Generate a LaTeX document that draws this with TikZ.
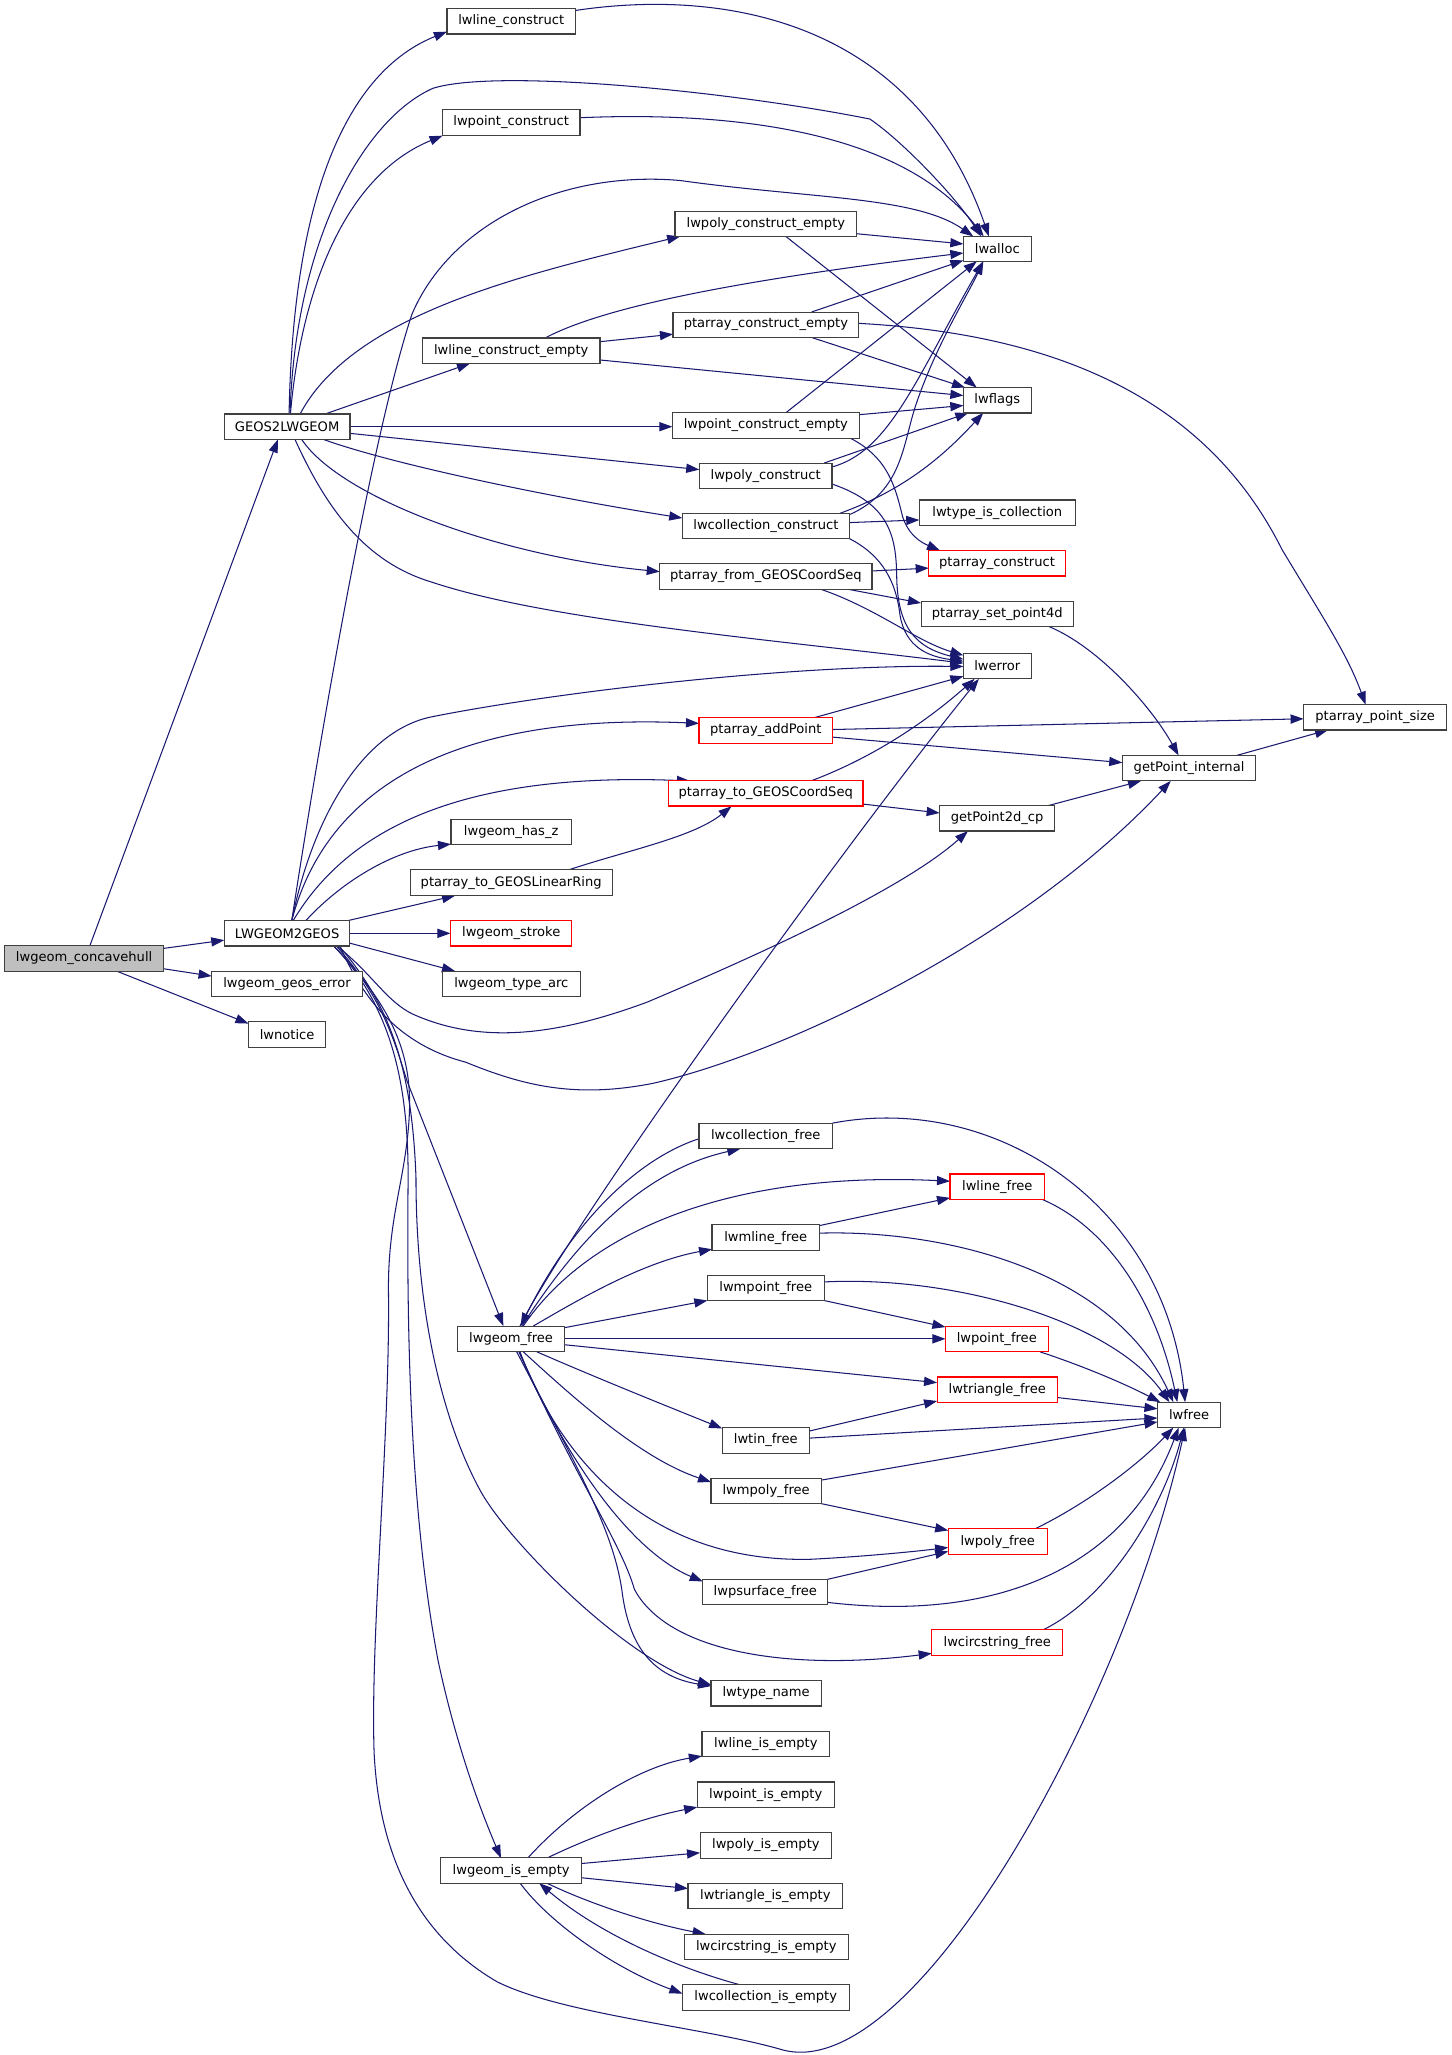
\documentclass[tikz,border=0pt]{standalone}
\usepackage{fontspec}
\newfontfamily\dvs{DejaVu Sans}
\usetikzlibrary{arrows.meta}
\definecolor{edgecol}{HTML}{191970}
\definecolor{nodeb}{HTML}{404040}
\definecolor{hullfill}{HTML}{BFBFBF}
\pgfdeclarelayer{edgelayer}
\pgfsetlayers{edgelayer,main}
\tikzset{
 fn/.style={draw=nodeb, line width=0.9pt, fill=white, minimum height=19.4pt, inner xsep=3pt, inner ysep=0pt, font=\dvs\fontsize{10}{12}\selectfont, text=black},
 trunc/.style={fn, draw=red},
 cur/.style={fn, fill=hullfill},
 cl/.style={draw=edgecol, line width=0.8pt, -{Triangle[length=10pt,width=7pt]}},
}
\begin{document}
\begin{tikzpicture}[x=1pt,y=-1pt]
\path[use as bounding box] (0,0) rectangle (1110,1571);
% nodes
\node[fn, minimum width=98.2pt] (lc) at (390.8,16.3) {lwline\_construct};
\node[fn, minimum width=105.2pt] (pc) at (390.8,93.7) {lwpoint\_construct};
\node[fn, minimum width=51.7pt] (alloc) at (762.4,190.3) {lwalloc};
\node[fn, minimum width=139pt] (pce) at (585.5,171.1) {lwpoly\_construct\_empty};
\node[fn, minimum width=142pt] (ace) at (585.5,248.3) {ptarray\_construct\_empty};
\node[fn, minimum width=135.8pt] (lce) at (390.8,268.1) {lwline\_construct\_empty};
\node[fn, minimum width=51.7pt] (flags) at (762.4,306) {lwflags};
\node[fn, minimum width=96.1pt] (geos) at (219.5,326.2) {GEOS2LWGEOM};
\node[fn, minimum width=143pt] (ptce) at (585.5,325.3) {lwpoint\_construct\_empty};
\node[fn, minimum width=101.4pt] (polyc) at (585.3,363.8) {lwpoly\_construct};
\node[fn, minimum width=119.2pt] (tic) at (762.4,392) {lwtype\_is\_collection};
\node[fn, minimum width=127.7pt] (collc) at (585.5,402) {lwcollection\_construct};
\node[trunc, minimum width=104.4pt] (ac) at (762.2,430.6) {ptarray\_construct};
\node[fn, minimum width=162.3pt] (afg) at (585.5,440.7) {ptarray\_from\_GEOSCoordSeq};
\node[fn, minimum width=116.5pt] (asp) at (762.4,469.4) {ptarray\_set\_point4d};
\node[fn, minimum width=51.8pt] (err) at (762.4,509) {lwerror};
\node[fn, minimum width=109.4pt] (aps) at (1051.3,548.3) {ptarray\_point\_size};
\node[trunc, minimum width=102pt] (aap) at (585.4,558.5) {ptarray\_addPoint};
\node[fn, minimum width=102pt] (gpi) at (909,587.2) {getPoint\_internal};
\node[trunc, minimum width=148.8pt] (atg) at (585.4,606.5) {ptarray\_to\_GEOSCoordSeq};
\node[fn, minimum width=87.8pt] (gp2) at (762.3,625.6) {getPoint2d\_cp};
\node[fn, minimum width=92pt] (hz) at (390.8,636) {lwgeom\_has\_z};
\node[fn, minimum width=154.4pt] (atlr) at (390.8,674.7) {ptarray\_to\_GEOSLinearRing};
\node[fn, minimum width=95.9pt] (l2g) at (219.5,713.5) {LWGEOM2GEOS};
\node[trunc, minimum width=92.8pt] (stroke) at (390.8,713.5) {lwgeom\_stroke};
\node[cur, minimum width=121.7pt] (hull) at (64.3,732.7) {lwgeom\_concavehull};
\node[fn, minimum width=115.2pt] (gerr) at (219.4,752.2) {lwgeom\_geos\_error};
\node[fn, minimum width=105.4pt] (tarc) at (390.9,752.2) {lwgeom\_type\_arc};
\node[fn, minimum width=59pt] (notice) at (219.5,790.8) {lwnotice};
\node[fn, minimum width=102pt] (collf) at (585.4,868.3) {lwcollection\_free};
\node[trunc, minimum width=72.2pt] (linef) at (762.4,907.2) {lwline\_free};
\node[fn, minimum width=82.1pt] (mlinef) at (585.4,946.1) {lwmline\_free};
\node[fn, minimum width=89.2pt] (mptf) at (585.4,984.5) {lwmpoint\_free};
\node[fn, minimum width=81.4pt] (gfree) at (390.7,1023.5) {lwgeom\_free};
\node[trunc, minimum width=78.5pt] (ptf) at (762,1023.5) {lwpoint\_free};
\node[trunc, minimum width=92pt] (trif) at (762.4,1062.4) {lwtriangle\_free};
\node[fn, minimum width=48.1pt] (free) at (909,1081.6) {lwfree};
\node[fn, minimum width=66.6pt] (tinf) at (585.4,1101.2) {lwtin\_free};
\node[fn, minimum width=84.3pt] (mpolyf) at (585.7,1139.8) {lwmpoly\_free};
\node[trunc, minimum width=75.7pt] (polyf) at (762.7,1178.5) {lwpoly\_free};
\node[fn, minimum width=95.6pt] (psf) at (585.1,1217.1) {lwpsurface\_free};
\node[trunc, minimum width=100.2pt] (csf) at (762.4,1255.7) {lwcircstring\_free};
\node[fn, minimum width=84.3pt] (tname) at (585.7,1294.5) {lwtype\_name};
\node[fn, minimum width=97.7pt] (lie) at (585.5,1333.1) {lwline\_is\_empty};
\node[fn, minimum width=104.8pt] (pie) at (585.4,1372) {lwpoint\_is\_empty};
\node[fn, minimum width=100.5pt] (polyie) at (585.5,1410.8) {lwpoly\_is\_empty};
\node[fn, minimum width=107.6pt] (gie) at (390.8,1430) {lwgeom\_is\_empty};
\node[fn, minimum width=118.2pt] (trie) at (585.1,1449.4) {lwtriangle\_is\_empty};
\node[fn, minimum width=125.2pt] (csie) at (585.8,1488.4) {lwcircstring\_is\_empty};
\node[fn, minimum width=127.4pt] (collie) at (585.4,1527) {lwcollection\_is\_empty};
\begin{pgfonlayer}{edgelayer}
% concavehull
\draw[cl] ([shift={(4.4,-9.7)}]hull.center) -- ([shift={(-7.1,9.8)}]geos.center);
\draw[cl] ([shift={(60.9,-7.7)}]hull.center) -- ([shift={(-48,5.2)}]l2g.center);
\draw[cl] ([shift={(60.9,7.9)}]hull.center) -- ([shift={(-57.6,-6)}]gerr.center);
\draw[cl] ([shift={(24.9,9.7)}]hull.center) -- ([shift={(-29.5,-8.3)}]notice.center);
% GEOS2LWGEOM
\draw[cl] ([shift={(1.5,-9.7)}]geos.center) .. controls (224,150) and (265,55) .. ([shift={(-49.1,7.9)}]lc.center);
\draw[cl] ([shift={(2.2,-9.7)}]geos.center) .. controls (226,180) and (280,90) .. (331,67.5) .. controls (380,52) and (560,70) .. (665,91) .. controls (690,108) and (730,150) .. ([shift={(-12.4,-9.6)}]alloc.center);
\draw[cl] ([shift={(2.5,-9.7)}]geos.center) .. controls (230,225) and (262,135) .. ([shift={(-52.4,10)}]pc.center);
\draw[cl] ([shift={(9.9,-9.7)}]geos.center) .. controls (270,240) and (400,210) .. ([shift={(-65.5,9.6)}]pce.center);
\draw[cl] ([shift={(29,-9.7)}]geos.center) -- ([shift={(-31.5,9.7)}]lce.center);
\draw[cl] ([shift={(48.1,0)}]geos.center) -- ([shift={(-71.5,0.9)}]ptce.center);
\draw[cl] ([shift={(48.1,5.1)}]geos.center) -- ([shift={(-50.7,-4.8)}]polyc.center);
\draw[cl] ([shift={(27.7,9.7)}]geos.center) .. controls (300,355) and (420,380) .. ([shift={(-63.9,-6)}]collc.center);
\draw[cl] ([shift={(11.1,9.7)}]geos.center) .. controls (260,380) and (380,425) .. ([shift={(-81.1,-3.7)}]afg.center);
\draw[cl] ([shift={(6,9.7)}]geos.center) .. controls (250,390) and (280,430) .. (330,445) .. controls (420,475) and (600,490) .. ([shift={(-25.9,-2)}]err.center);
% LWGEOM2GEOS
\draw[cl] ([shift={(3.5,-9.5)}]l2g.center) .. controls (245,560) and (285,330) .. (315,240) .. controls (345,170) and (430,130) .. (520,138) .. controls (620,152) and (700,150) .. ([shift={(-18.4,-9.6)}]alloc.center);
\draw[cl] ([shift={(3.5,-9.5)}]l2g.center) .. controls (240,620) and (280,558) .. (330,548) .. controls (420,530) and (600,508) .. ([shift={(-25.9,0.5)}]err.center);
\draw[cl] ([shift={(3.5,-9.5)}]l2g.center) .. controls (250,600) and (350,545) .. ([shift={(-51,-5.5)}]aap.center);
\draw[cl] ([shift={(4.5,-9.5)}]l2g.center) .. controls (265,635) and (350,590) .. ([shift={(-57.9,-9.5)}]atg.center);
\draw[cl] ([shift={(14.1,-9.5)}]l2g.center) .. controls (260,675) and (300,650) .. ([shift={(-46,9.3)}]hz.center);
\draw[cl] ([shift={(45.5,-9.5)}]l2g.center) -- ([shift={(-42.9,10)}]atlr.center);
\draw[cl] ([shift={(47.9,0)}]l2g.center) -- ([shift={(-46.4,0)}]stroke.center);
\draw[cl] ([shift={(47.9,7.5)}]l2g.center) -- ([shift={(-43,-9.8)}]tarc.center);
\draw[cl] ([shift={(37.9,9.5)}]l2g.center) .. controls (285,745) and (295,765) .. (315,775) .. controls (370,800) and (430,790) .. (495,766) .. controls (580,730) and (690,680) .. ([shift={(-22.3,9.7)}]gp2.center);
\draw[cl] ([shift={(40.3,9.5)}]l2g.center) .. controls (280,770) and (310,800) .. (356,812) .. controls (400,830) and (440,840) .. (500,828) .. controls (600,805) and (780,720) .. ([shift={(-14,9.8)}]gpi.center);
\draw[cl] ([shift={(37.5,9.5)}]l2g.center) .. controls (290,760) and (300,790) .. (311,826) -- ([shift={(-5.9,-9.8)}]gfree.center);
\draw[cl] ([shift={(39.5,9.5)}]l2g.center) .. controls (300,770) and (315,820) .. (318,900) .. controls (318,1020) and (345,1100) .. (368,1141) .. controls (390,1180) and (480,1270) .. ([shift={(-42.1,-6.5)}]tname.center);
\draw[cl] ([shift={(35.5,9.5)}]l2g.center) .. controls (300,770) and (312,830) .. (312,900) .. controls (311,1000) and (312,1150) .. (335,1270) .. controls (350,1340) and (370,1390) .. ([shift={(-7.8,-9.5)}]gie.center);
\draw[cl] ([shift={(35.5,9.5)}]l2g.center) .. controls (295,765) and (315,800) .. (313,850) .. controls (311,900) and (296,930) .. (297,990) .. controls (298,1100) and (283,1250) .. (286,1340) .. controls (290,1420) and (320,1480) .. (380,1515) .. controls (430,1540) and (540,1550) .. (598,1567) .. controls (700,1595) and (860,1300) .. ([shift={(-3,9.8)}]free.center);
% upper cluster
\draw[cl] ([shift={(49.1,-8.3)}]lc.center) .. controls (560,-10) and (700,20) .. ([shift={(-6.4,-9.6)}]alloc.center);
\draw[cl] ([shift={(52.6,-3.7)}]pc.center) .. controls (560,85) and (690,100) .. ([shift={(-10.4,-9.6)}]alloc.center);
\draw[cl] ([shift={(69.5,7.6)}]pce.center) -- ([shift={(-25.9,-3.8)}]alloc.center);
\draw[cl] ([shift={(15.2,9.6)}]pce.center) -- ([shift={(-15.7,-9.7)}]flags.center);
\draw[cl] ([shift={(25.9,-9.7)}]lce.center) .. controls (470,230) and (600,210) .. ([shift={(-25.9,3.1)}]alloc.center);
\draw[cl] ([shift={(67.9,-6.9)}]lce.center) -- ([shift={(-71,7.2)}]ace.center);
\draw[cl] ([shift={(67.9,7.1)}]lce.center) -- ([shift={(-25.9,-3.6)}]flags.center);
\draw[cl] ([shift={(35,-9.8)}]ace.center) -- ([shift={(-25.9,8.7)}]alloc.center);
\draw[cl] ([shift={(35,9.7)}]ace.center) -- ([shift={(-24.6,-9.7)}]flags.center);
\draw[cl] ([shift={(71,-1.1)}]ace.center) .. controls (800,255) and (920,300) .. (980,420) .. controls (1010,470) and (1030,500) .. ([shift={(-7.3,-9.6)}]aps.center);
\draw[cl] ([shift={(15.2,-9.7)}]ptce.center) -- ([shift={(-15.7,9.5)}]alloc.center);
\draw[cl] ([shift={(71.5,-8.3)}]ptce.center) -- ([shift={(-25.9,4)}]flags.center);
\draw[cl] ([shift={(64.5,9.7)}]ptce.center) .. controls (680,350) and (685,375) .. (690,395) .. controls (695,410) and (705,415) .. ([shift={(-43.6,-9.7)}]ac.center);
\draw[cl] ([shift={(50.7,-6.8)}]polyc.center) .. controls (680,345) and (700,290) .. ([shift={(-10.7,9.5)}]alloc.center);
\draw[cl] ([shift={(44.7,-9.8)}]polyc.center) -- ([shift={(-22.1,9.6)}]flags.center);
\draw[cl] ([shift={(50.7,6.2)}]polyc.center) .. controls (680,385) and (685,410) .. (685.5,440) .. controls (686,480) and (700,495) .. ([shift={(-25.9,-5)}]err.center);
\draw[cl] ([shift={(64.5,-8.8)}]collc.center) .. controls (690,375) and (690,340) .. (700,310) .. controls (715,265) and (740,225) .. ([shift={(-10.7,9.5)}]alloc.center);
\draw[cl] ([shift={(56.7,-9.6)}]collc.center) .. controls (690,375) and (720,350) .. ([shift={(-10.7,9.6)}]flags.center);
\draw[cl] ([shift={(63.8,-2.5)}]collc.center) -- ([shift={(-59.6,5.5)}]tic.center);
\draw[cl] ([shift={(63.8,9.7)}]collc.center) .. controls (675,425) and (685,445) .. (688,470) .. controls (692,495) and (710,502) .. ([shift={(-25.9,-3.5)}]err.center);
\draw[cl] ([shift={(81.2,-4.2)}]afg.center) -- ([shift={(-52.2,3.7)}]ac.center);
\draw[cl] ([shift={(61.8,9.6)}]afg.center) -- ([shift={(-58.3,-8.4)}]asp.center);
\draw[cl] ([shift={(41.5,9.6)}]afg.center) .. controls (670,465) and (700,490) .. ([shift={(-25.9,-8)}]err.center);
\draw[cl] ([shift={(40,9.8)}]asp.center) .. controls (840,495) and (880,540) .. ([shift={(-8,-9.7)}]gpi.center);
\draw[cl] ([shift={(37.6,-10)}]aap.center) -- ([shift={(-25.9,8)}]err.center);
\draw[cl] ([shift={(51,-0.8)}]aap.center) -- ([shift={(-54.7,1.2)}]aps.center);
\draw[cl] ([shift={(51,5)}]aap.center) -- ([shift={(-51,-4.2)}]gpi.center);
\draw[cl] ([shift={(35.6,-9.9)}]atg.center) .. controls (670,578) and (710,550) .. ([shift={(-17.4,10)}]err.center);
\draw[cl] ([shift={(74.4,8.2)}]atg.center) -- ([shift={(-43.9,-4.1)}]gp2.center);
\draw[cl] ([shift={(38.5,-9.6)}]gp2.center) -- ([shift={(-36.7,9.8)}]gpi.center);
\draw[cl] ([shift={(36.4,-9.7)}]gpi.center) -- ([shift={(-36,9.7)}]aps.center);
\draw[cl] ([shift={(44.5,-9.9)}]atlr.center) .. controls (480,650) and (530,640) .. ([shift={(-26.2,9.9)}]atg.center);
% lwgeom_free group
\draw[cl] ([shift={(6.8,-9.8)}]gfree.center) .. controls (440,930) and (650,640) .. ([shift={(-14.1,10)}]err.center);
\draw[cl] ([shift={(-51,2.2)}]collf.center) .. controls (490,885) and (440,930) .. ([shift={(7.3,-9.8)}]gfree.center);
\draw[cl] ([shift={(8.3,-9.8)}]gfree.center) .. controls (440,950) and (490,895) .. ([shift={(-19.4,9.9)}]collf.center);
\draw[cl] ([shift={(9.3,-9.8)}]gfree.center) .. controls (450,940) and (560,895) .. ([shift={(-36.1,-4.2)}]linef.center);
\draw[cl] ([shift={(40.7,-9.1)}]mlinef.center) -- ([shift={(-36.1,8.5)}]linef.center);
\draw[cl] ([shift={(41.1,-3.4)}]mlinef.center) .. controls (720,940) and (850,970) .. ([shift={(-12,-9.7)}]free.center);
\draw[cl] ([shift={(44.6,-4.5)}]mptf.center) .. controls (730,975) and (850,1010) .. ([shift={(-15,-9.7)}]free.center);
\draw[cl] ([shift={(44.6,9.7)}]mptf.center) -- ([shift={(-39.2,-9)}]ptf.center);
\draw[cl] ([shift={(40.7,-8.5)}]gfree.center) -- ([shift={(-44.6,9.7)}]mptf.center);
\draw[cl] ([shift={(17,-9.8)}]gfree.center) .. controls (440,995) and (490,965) .. ([shift={(-41,8.9)}]mlinef.center);
\draw[cl] ([shift={(40.7,0)}]gfree.center) -- ([shift={(-39.2,0)}]ptf.center);
\draw[cl] ([shift={(40.7,4.5)}]gfree.center) -- ([shift={(-46,-5.4)}]trif.center);
\draw[cl] ([shift={(19.6,9.9)}]gfree.center) .. controls (460,1055) and (510,1075) .. ([shift={(-33.3,-9.2)}]tinf.center);
\draw[cl] ([shift={(33.3,-7.2)}]tinf.center) -- ([shift={(-46,8.6)}]trif.center);
\draw[cl] ([shift={(33.3,-1.8)}]tinf.center) -- ([shift={(-24.1,2.4)}]free.center);
\draw[cl] ([shift={(46,6)}]trif.center) -- ([shift={(-24.1,-4.6)}]free.center);
\draw[cl] ([shift={(33,9.9)}]ptf.center) .. controls (830,1045) and (860,1058) .. ([shift={(-22,-9.7)}]free.center);
\draw[cl] ([shift={(51,-9.7)}]collf.center) .. controls (760,835) and (890,920) .. ([shift={(-3,-9.7)}]free.center);
\draw[cl] ([shift={(34.8,9.9)}]linef.center) .. controls (850,940) and (885,1000) .. ([shift={(-9,-9.7)}]free.center);
\draw[cl] ([shift={(9.3,9.9)}]gfree.center) .. controls (440,1070) and (490,1115) .. ([shift={(-42.1,-6.8)}]mpolyf.center);
\draw[cl] ([shift={(42.2,-8.3)}]mpolyf.center) -- ([shift={(-24.1,5.4)}]free.center);
\draw[cl] ([shift={(42.2,9.7)}]mpolyf.center) -- ([shift={(-37.8,-8.5)}]polyf.center);
\draw[cl] ([shift={(6.8,9.9)}]gfree.center) .. controls (430,1120) and (500,1195) .. (620,1192) .. controls (660,1190) and (700,1186) .. ([shift={(-37.8,4.5)}]polyf.center);
\draw[cl] ([shift={(6.3,9.9)}]gfree.center) .. controls (430,1110) and (480,1185) .. ([shift={(-47.8,-8.1)}]psf.center);
\draw[cl] ([shift={(46.9,-9.6)}]psf.center) -- ([shift={(-37.8,7.5)}]polyf.center);
\draw[cl] ([shift={(47.8,7.9)}]psf.center) .. controls (760,1240) and (860,1200) .. ([shift={(-8,9.8)}]free.center);
\draw[cl] ([shift={(28.6,-9.8)}]polyf.center) .. controls (830,1150) and (870,1120) .. ([shift={(-12,9.8)}]free.center);
\draw[cl] ([shift={(35.2,-9.8)}]csf.center) .. controls (850,1220) and (890,1150) .. ([shift={(-4,9.8)}]free.center);
\draw[cl] ([shift={(6,9.9)}]gfree.center) .. controls (440,1130) and (475,1180) .. (485,1215) .. controls (510,1262) and (600,1278) .. ([shift={(-50.1,8.3)}]csf.center);
\draw[cl] ([shift={(4.3,9.9)}]gfree.center) .. controls (440,1120) and (470,1170) .. (476,1220) .. controls (482,1260) and (500,1282) .. ([shift={(-42.1,-5.5)}]tname.center);
% lwgeom_is_empty group
\draw[cl] ([shift={(12.6,-9.5)}]gie.center) .. controls (440,1380) and (490,1350) .. ([shift={(-48.9,9.4)}]lie.center);
\draw[cl] ([shift={(27.2,-9.5)}]gie.center) .. controls (450,1405) and (490,1390) .. ([shift={(-52.4,9.5)}]pie.center);
\draw[cl] ([shift={(53.8,-5.4)}]gie.center) -- ([shift={(-50.3,5.6)}]polyie.center);
\draw[cl] ([shift={(53.8,5.5)}]gie.center) -- ([shift={(-59.1,-5.7)}]trie.center);
\draw[cl] ([shift={(27.2,9.6)}]gie.center) .. controls (450,1455) and (495,1470) .. ([shift={(-46.3,-9.8)}]csie.center);
\draw[cl] ([shift={(6.8,9.6)}]gie.center) .. controls (420,1470) and (470,1505) .. ([shift={(-63.7,-3)}]collie.center);
\draw[cl] ([shift={(-19.7,-9.7)}]collie.center) .. controls (520,1505) and (460,1480) .. ([shift={(21.4,9.6)}]gie.center);
\end{pgfonlayer}
\end{tikzpicture}
\end{document}
